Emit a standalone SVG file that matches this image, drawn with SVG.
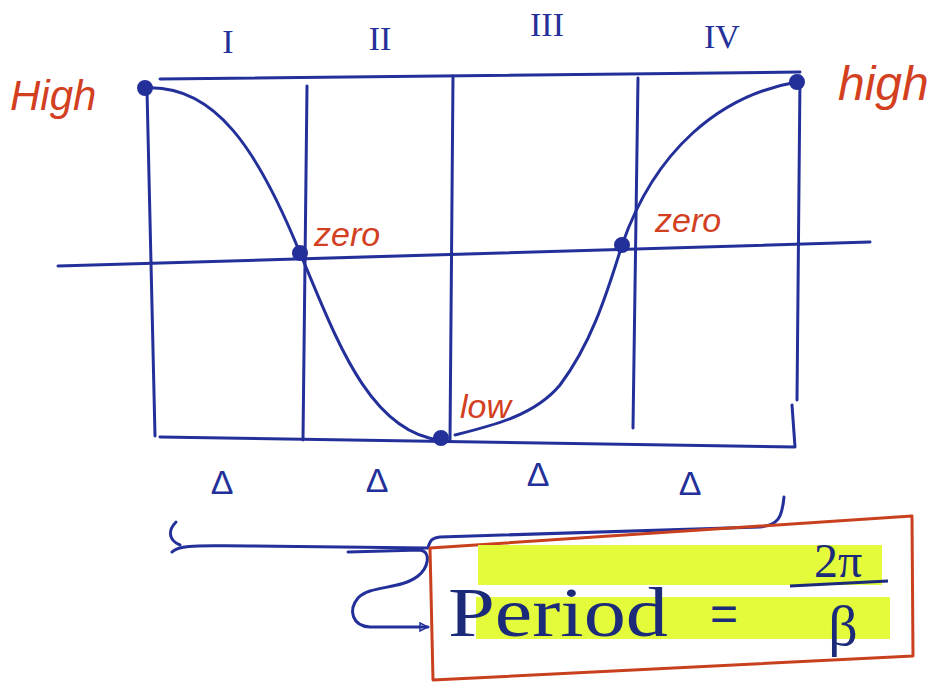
<svg xmlns="http://www.w3.org/2000/svg" width="936" height="682" viewBox="0 0 936 682">
<style>
.ink{fill:none;stroke:#24309a;stroke-width:3;stroke-linecap:round;stroke-linejoin:round}
.red{fill:#d2401f;font-family:"Liberation Sans",sans-serif;font-style:italic}
.blue{fill:#24309a;font-family:"Liberation Serif",serif}
.dot{fill:#24309a;stroke:#24309a;stroke-width:2}
.hl{fill:#e4fb3c}
</style>
<defs>
<marker id="arr" viewBox="0 0 10 10" refX="9" refY="5" markerWidth="10" markerHeight="10" orient="auto" markerUnits="userSpaceOnUse">
<path d="M1,1 L9,5 L1,9 Z" fill="none" stroke="#24309a" stroke-width="1.5"/>
</marker>
</defs>
<rect width="936" height="682" fill="#fff"/>
<g id="grid">
<path class="ink" d="M160,79 L800,72"/>
<path class="ink" d="M147,90 L155,436"/>
<path class="ink" d="M160,437 L795,447 L792,405"/>
<path class="ink" d="M800,76 L797,400"/>
<path class="ink" d="M307,86 L303,440"/>
<path class="ink" d="M453,76 L450,440"/>
<path class="ink" d="M638,78 L633,428"/>
<path class="ink" d="M58,266 L870,242"/>
</g>
<g id="curve">
<path class="ink" d="M145,88 C215,84 258,150 300,253 C335,335 368,432 440,440"/>
<path class="ink" d="M455,435 C495,425 535,415 560,385 C590,345 605,300 622,245 C655,150 720,95 797,82"/>
</g>
<g id="points">
<circle class="dot" cx="145" cy="88" r="7"/>
<circle class="dot" cx="300" cy="253" r="7"/>
<circle class="dot" cx="441" cy="438" r="7"/>
<circle class="dot" cx="622" cy="245" r="7"/>
<circle class="dot" cx="797" cy="82" r="7"/>
</g>
<g id="labels">
<text class="red" x="10" y="110" font-size="42">High</text>
<text class="red" x="838" y="100" font-size="48">high</text>
<text class="red" x="314" y="246" font-size="34">zero</text>
<text class="red" x="655" y="232" font-size="34">zero</text>
<text class="red" x="460" y="418" font-size="34">low</text>
</g>
<g id="quadrants" class="blue" font-size="34" text-anchor="middle">
<text x="228" y="53">I</text>
<text x="380" y="50">II</text>
<text x="547" y="36">III</text>
<text x="722" y="48">IV</text>
</g>
<g id="deltas" class="blue" font-size="34" text-anchor="middle">
<text x="222" y="494" font-family="Liberation Sans,sans-serif">Δ</text>
<text x="377" y="492" font-family="Liberation Sans,sans-serif">Δ</text>
<text x="538" y="486" font-family="Liberation Sans,sans-serif">Δ</text>
<text x="690" y="495" font-family="Liberation Sans,sans-serif">Δ</text>
</g>
<g id="connectors">
<path class="ink" d="M176,522 C168,530 168,540 180,545"/>
<path class="ink" d="M172,552 C180,544 200,546 250,546 L428,548 C430,540 432,538 440,537 L760,527 C778,525 782,518 784,497"/>
<path class="ink" d="M348,552 L420,550 C432,552 428,568 418,576 C400,590 370,585 358,598 C348,610 352,626 370,627 L428,627" marker-end="url(#arr)"/>
</g>
<g id="period">
<path d="M430,548 L912,516 L913,656 L433,680 Z" fill="none" stroke="#c9401f" stroke-width="3" stroke-linejoin="round"/>
<rect class="hl" x="478" y="545" width="404" height="40"/>
<rect class="hl" x="476" y="597" width="414" height="42"/>
<text x="448" y="636" font-family="Liberation Serif,serif" font-size="70" fill="#1c2a7a" textLength="220" lengthAdjust="spacingAndGlyphs">Period</text>
<text x="724" y="630" font-family="Liberation Sans,sans-serif" font-size="48" fill="#1c2a7a" text-anchor="middle">=</text>
<text x="838" y="577" font-family="Liberation Serif,serif" font-size="48" fill="#1c2a7a" text-anchor="middle">2π</text>
<path d="M790,586 L888,581" stroke="#1c2a7a" stroke-width="3" fill="none"/>
<text x="843" y="645" font-family="Liberation Serif,serif" font-size="58" fill="#1c2a7a" text-anchor="middle">β</text>
</g>
</svg>
